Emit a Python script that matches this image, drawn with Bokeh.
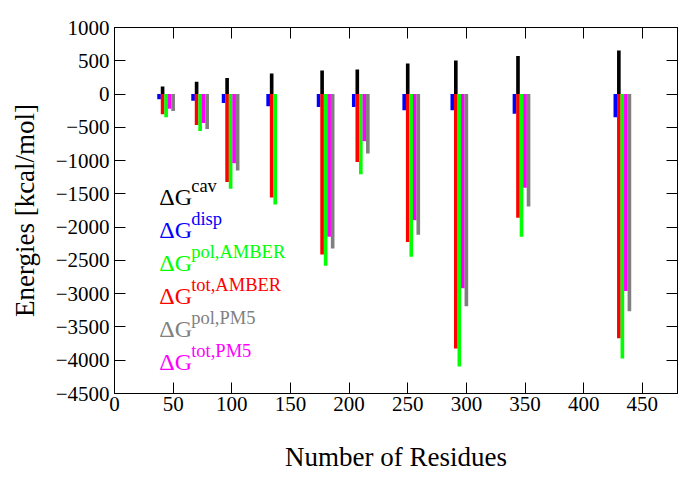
from bokeh.plotting import figure
from bokeh.models import LinearAxis, FixedTicker, CustomJSTickFormatter, Label, Range1d
from bokeh.embed import file_html
from bokeh.resources import INLINE
import numpy as np

# ---- data ----
residues = [41, 70, 96, 134, 177, 207, 250, 291, 344, 430]
dG_cav = [115, 185, 240, 310, 355, 370, 460, 505, 570, 655]
dG_disp = [-80, -100, -135, -185, -195, -195, -245, -245, -295, -350]
dG_pol_amber = [-350, -555, -1425, -1660, -2580, -1205, -2445, -4095, -2145, -3975]
dG_tot_amber = [-305, -465, -1320, -1555, -2410, -1020, -2225, -3825, -1860, -3670]
dG_pol_pm5 = [-255, -525, -1150, np.nan, -2320, -895, -2115, -3190, -1690, -3265]
dG_tot_pm5 = [-220, -435, -1040, np.nan, -2145, -710, -1895, -2920, -1410, -2960]

x_ticks = [0, 50, 100, 150, 200, 250, 300, 350, 400, 450]
y_ticks = [1000, 500, 0, -500, -1000, -1500, -2000, -2500, -3000, -3500, -4000, -4500]

legend_sups = ["cav", "disp", "pol,AMBER", "tot,AMBER", "pol,PM5", "tot,PM5"]
legend_colors = ["#000000", "#0000ff", "#00ff00", "#ff0000", "#808080", "#ff00ff"]

# series: (values, colour, offset in residue units)
series = [
    (dG_disp, "#0000ff", -3),
    (dG_cav, "#000000", 0),
    (dG_tot_amber, "#ff0000", 0),
    (dG_pol_amber, "#00ff00", 3),
    (dG_tot_pm5, "#ff00ff", 6),
    (dG_pol_pm5, "#808080", 9),
]
bar_w = 3.1

FONT = "Liberation Serif"

p = figure(width=684, height=474, output_backend="svg", toolbar_location=None,
           x_range=Range1d(0, 480), y_range=Range1d(-4500, 1000),
           min_border_left=114, min_border_right=7, min_border_top=27, min_border_bottom=80,
           x_axis_label="Number of Residues", y_axis_label="Energies [kcal/mol]")
p.grid.visible = False
p.outline_line_color = "black"
p.outline_line_width = 1

xs_all = np.array(residues, dtype=float)
for vals, col, off in series:
    v = np.array(vals, dtype=float)
    m = ~np.isnan(v)
    p.vbar(x=(xs_all + off)[m], top=v[m], bottom=0, width=bar_w,
           fill_color=col, line_color=None)

fmt = CustomJSTickFormatter(code="return tick < 0 ? '\u2212' + Math.abs(tick) : String(tick);")
blank = CustomJSTickFormatter(code="return '';")

for ax in p.xaxis:
    ax.ticker = FixedTicker(ticks=x_ticks)
    ax.major_label_standoff = 3
for ax in p.yaxis:
    ax.ticker = FixedTicker(ticks=y_ticks)
    ax.formatter = fmt
    ax.major_label_standoff = 5

for ax in list(p.xaxis) + list(p.yaxis):
    ax.major_tick_in = 11
    ax.major_tick_out = 0
    ax.minor_tick_in = 0
    ax.minor_tick_out = 0
    ax.axis_line_color = "black"
    ax.major_tick_line_color = "black"
    ax.major_label_text_font = FONT
    ax.major_label_text_font_size = "21px"
    ax.major_label_text_color = "black"
    ax.axis_label_text_font = FONT
    ax.axis_label_text_font_size = "27px"
    ax.axis_label_text_font_style = "normal"
    ax.axis_label_text_color = "black"

p.xaxis.axis_label_standoff = 28
p.yaxis.axis_label_standoff = 13

# mirror ticks on top and right
top_ax = LinearAxis(ticker=FixedTicker(ticks=x_ticks), formatter=blank, major_tick_in=11,
                    major_tick_out=0, minor_tick_in=0, minor_tick_out=0,
                    major_label_standoff=0, axis_line_color="black")
right_ax = LinearAxis(ticker=FixedTicker(ticks=y_ticks), formatter=blank, major_tick_in=11,
                      major_tick_out=0, minor_tick_in=0, minor_tick_out=0,
                      major_label_standoff=0, axis_line_color="black")
p.add_layout(top_ax, "above")
p.add_layout(right_ax, "right")

# colored text legend with superscripts (screen units relative to frame)
lx, sx = 44.7, 76.7
base_y0, step = 197, 33
for i, (sup, col) in enumerate(zip(legend_sups, legend_colors)):
    by = base_y0 - i * step
    p.add_layout(Label(x=lx, y=by, x_units="screen", y_units="screen", text="\u0394G",
                       text_font=FONT, text_font_size="24px", text_color=col,
                       text_baseline="alphabetic", text_align="left"))
    p.add_layout(Label(x=sx, y=by + 11, x_units="screen", y_units="screen", text=sup,
                       text_font=FONT, text_font_size="18.5px", text_color=col,
                       text_baseline="alphabetic", text_align="left"))

open("out.html", "w").write(file_html(p, INLINE))
